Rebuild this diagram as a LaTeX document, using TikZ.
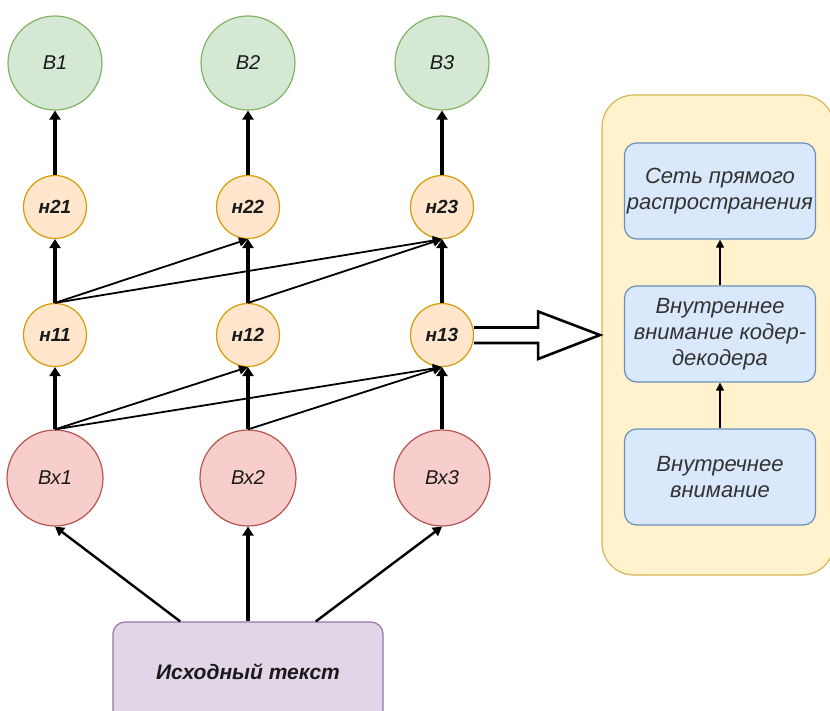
\documentclass[tikz,border=0pt]{standalone}
\usepackage{fontspec}
\setmainfont{Liberation Sans}
\usetikzlibrary{arrows.meta,calc}
\definecolor{gfill}{HTML}{D5E8D4}\definecolor{gdraw}{HTML}{82B366}
\definecolor{rfill}{HTML}{F8CECC}\definecolor{rdraw}{HTML}{B85450}
\definecolor{ofill}{HTML}{FFE6CC}\definecolor{odraw}{HTML}{D79B00}
\definecolor{pfill}{HTML}{E1D5E7}\definecolor{pdraw}{HTML}{9673A6}
\definecolor{yfill}{HTML}{FFF2CC}\definecolor{ydraw}{HTML}{D6B656}
\definecolor{bfill}{HTML}{DAE8FC}\definecolor{bdraw}{HTML}{6C8EBF}
\definecolor{txt}{HTML}{1A1A1A}
\tikzset{
  outnode/.style={circle,draw=gdraw,fill=gfill,line width=1.2pt,minimum size=94pt,inner sep=0pt,font=\fontsize{20}{24}\selectfont\itshape,text=txt},
  innode/.style={circle,draw=rdraw,fill=rfill,line width=1.2pt,minimum size=96pt,inner sep=0pt,font=\fontsize{20}{24}\selectfont\itshape,text=txt},
  hidnode/.style={circle,draw=odraw,fill=ofill,line width=1.2pt,minimum size=63pt,inner sep=0pt,font=\fontsize{19}{22}\selectfont\itshape\bfseries,text=txt},
  srcbox/.style={rectangle,rounded corners=12pt,draw=pdraw,fill=pfill,line width=1.2pt,minimum width=270pt,minimum height=100pt,inner sep=0pt,font=\fontsize{21}{25}\selectfont\itshape\bfseries,text=txt},
  panel/.style={rectangle,rounded corners=32pt,draw=ydraw,fill=yfill,line width=1.2pt,minimum width=232pt,minimum height=480pt,inner sep=0pt},
  blbox/.style={rectangle,rounded corners=12pt,draw=bdraw,fill=bfill,line width=1.2pt,minimum width=191pt,minimum height=96pt,inner sep=0pt,align=center,font=\fontsize{22}{26}\selectfont\itshape,text=black!80},
  thick arr/.style={line width=3.2pt,-{Triangle[length=9pt,width=11pt]}},
  thin arr/.style={line width=1.8pt,-{Triangle[length=9pt,width=9pt]}},
  src arr/.style={line width=2.4pt,-{Triangle[length=9pt,width=10pt]}},
  panel arr/.style={line width=1.1pt,-{Triangle[length=8pt,width=8pt]}},
}
\begin{document}
\begin{tikzpicture}[x=1pt,y=-1pt]
\useasboundingbox (0,0) rectangle (830,710);
% right panel
\node[panel] (pan) at (718,335) {};
\node[blbox] (ff) at (720,191) {Сеть прямого\\распространения};
\node[blbox] (ed) at (720,334) {Внутреннее\\внимание кодер-\\декодера};
\node[blbox] (sa) at (720,477) {Внутречнее\\внимание};
\draw[panel arr] (sa) -- (ed);
\draw[panel arr] (ed) -- (ff);
% nodes
\node[outnode] (o1) at (55,63) {В1};
\node[outnode] (o2) at (248,63) {В2};
\node[outnode] (o3) at (442,63) {В3};
\node[hidnode] (h21) at (55,207) {н21};
\node[hidnode] (h22) at (248,207) {н22};
\node[hidnode] (h23) at (442,207) {н23};
\node[hidnode] (h11) at (55,335) {н11};
\node[hidnode] (h12) at (248,335) {н12};
\node[hidnode] (h13) at (442,335) {н13};
\node[innode] (x1) at (55,478) {Вх1};
\node[innode] (x2) at (248,478) {Вх2};
\node[innode] (x3) at (442,478) {Вх3};
\node[srcbox] (src) at (248,672) {Исходный текст};
\coordinate (s1) at ($(src.north west)!0.25!(src.north east)$);
\coordinate (s3) at ($(src.north west)!0.75!(src.north east)$);
% vertical thick arrows
\foreach \a/\b in {x1/h11,x2/h12,x3/h13,h11/h21,h12/h22,h13/h23,h21/o1,h22/o2,h23/o3}
  \draw[thick arr] (\a.north) -- (\b.south);
\draw[thick arr] (src.north) -- (x2.south);
% diagonals
\draw[thin arr] (x1.north) -- (h12.south);
\draw[thin arr] (x1.north) -- (h13.south);
\draw[thin arr] (x2.north) -- (h13.south);
\draw[thin arr] (h11.north) -- (h22.south);
\draw[thin arr] (h11.north) -- (h23.south);
\draw[thin arr] (h12.north) -- (h23.south);
\draw[src arr] (s1) -- (x1.south);
\draw[src arr] (s3) -- (x3.south);
% hollow arrow
\coordinate (ha) at (h13.east);
\draw[line width=2.6pt,fill=white,line join=miter] ($(ha)+(0,-7.5)$) -- ++(64,0) -- ++(0,-16) -- (600,335) -- ($(ha)+(64,24)$) -- ++(0,-16) -- ($(ha)+(0,8)$);
\end{tikzpicture}
\end{document}
